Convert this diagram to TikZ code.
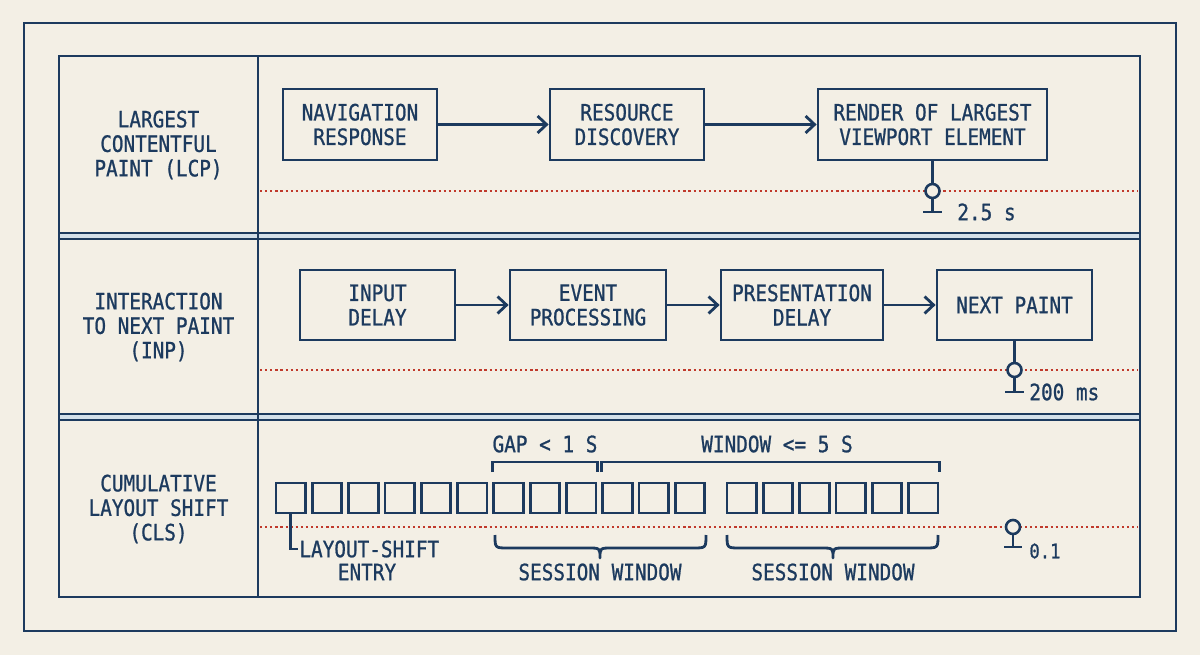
\documentclass[tikz,border=0pt]{standalone}
\usepackage{fontspec}
\setmonofont[FakeStretch=0.86,FakeBold=0.9]{DejaVu Sans Mono}
\usetikzlibrary{arrows.meta}
\definecolor{navy}{HTML}{1C3A5E}
\definecolor{redline}{HTML}{C0392B}
\definecolor{paper}{HTML}{F3EFE5}
\definecolor{band}{HTML}{D3E0EA}
\begin{document}
\begin{tikzpicture}[x=1pt,y=-1pt,line width=2.8pt,
  frame/.style={draw=navy,line width=2.8pt},
  txt/.style={font=\ttfamily\fontsize{22.5}{24.5}\selectfont,text=navy,align=center,inner sep=0pt},
  small/.style={font=\ttfamily\fontsize{20}{22}\selectfont,text=navy,inner sep=0pt},
  stage/.style={txt,draw=navy,line width=2.8pt,minimum height=71pt},
  flow/.style={draw=navy,line width=2.8pt,-{Straight Barb[length=9pt,width=17pt,line width=2.8pt]}},
  dotline/.style={draw=redline,line width=2.6pt,dash pattern=on 2.2pt off 2.9pt},
  pin/.style={circle,draw=navy,fill=paper,line width=2.6pt,minimum size=14pt,inner sep=0pt},
  sq/.style={draw=navy,line width=2.8pt,minimum width=29.5pt,minimum height=30pt,inner sep=0pt},
  ann/.style={draw=navy,line width=2.8pt}]
\useasboundingbox (0,0) rectangle (1200,655);
\fill[paper] (0,0) rectangle (1200,655);
% outer frame
\draw[frame] (24,23) rectangle (1176,631);
% separator bands
\fill[band] (59,233) rectangle (1140,239);
\fill[band] (59,414) rectangle (1140,420);
\draw[frame] (59,233) -- (1140,233) (59,239) -- (1140,239);
\draw[frame] (59,414) -- (1140,414) (59,420) -- (1140,420);
% table
\draw[frame] (59,56) rectangle (1140,597);
\draw[frame] (258,56) -- (258,597);
% red threshold lines
\draw[dotline] (260,191) -- (1138,191);
\draw[dotline] (260,370) -- (1138,370);
\draw[dotline] (260,527) -- (1138,527);
% row labels
\node[txt] (l1) at (158.5,145) {LARGEST\\CONTENTFUL\\PAINT (LCP)};
\node[txt] (l2) at (158.5,327) {INTERACTION\\TO NEXT PAINT\\(INP)};
\node[txt] (l3) at (158.5,509) {CUMULATIVE\\LAYOUT SHIFT\\(CLS)};
% row 1
\node[stage,minimum width=154pt] (nav) at (360,124.5) {NAVIGATION\\RESPONSE};
\node[stage,minimum width=154pt] (res) at (627,124.5) {RESOURCE\\DISCOVERY};
\node[stage,minimum width=229pt] (ren) at (932.5,124.5) {RENDER OF LARGEST\\VIEWPORT ELEMENT};
\draw[flow] (nav.east) -- (res.west);
\draw[flow] (res.east) -- (ren.west);
\node[pin] (p1) at (932.5,191) {};
\coordinate (t1) at (932.5,212);
\draw[ann] (ren.south) -- (p1.north);
\draw[ann] (p1.south) -- (t1);
\draw[ann] ([xshift=-9.5pt]t1) -- ([xshift=9.5pt]t1);
\node[txt,anchor=west] (v1) at (956,212) {2.5 s};
% row 2
\node[stage,minimum width=155pt,minimum height=70pt] (inp) at (377.5,305) {INPUT\\DELAY};
\node[stage,minimum width=156pt,minimum height=70pt] (evt) at (588,305) {EVENT\\PROCESSING};
\node[stage,minimum width=162pt,minimum height=70pt] (pre) at (802,305) {PRESENTATION\\DELAY};
\node[stage,minimum width=155pt,minimum height=70pt] (nxt) at (1014.5,305) {NEXT PAINT};
\draw[flow] (inp.east) -- (evt.west);
\draw[flow] (evt.east) -- (pre.west);
\draw[flow] (pre.east) -- (nxt.west);
\node[pin] (p2) at (1014.5,370) {};
\coordinate (t2) at (1014.5,392);
\draw[ann] (nxt.south) -- (p2.north);
\draw[ann] (p2.south) -- (t2);
\draw[ann] ([xshift=-9.5pt]t2) -- ([xshift=9.5pt]t2);
\node[txt,anchor=west] (v2) at (1028,392) {200 ms};
% row 3 squares
\foreach \i in {0,...,11} \node[sq] (q\i) at ({290.75+36.3*\i},498) {};
\foreach \i in {0,...,5} \node[sq] (r\i) at ({741.75+36.3*\i},498) {};
% top brackets
\draw[ann] (q6.west |- 0,472) -- (q6.west |- 0,462) -- (q8.east |- 0,462) -- (q8.east |- 0,472);
\draw[ann] (q9.west |- 0,472) -- (q9.west |- 0,462) -- (r5.east |- 0,462) -- (r5.east |- 0,472);
\node[txt] (gap) at (545,444) {GAP < 1 S};
\node[txt] (win) at (777,444) {WINDOW <= 5 S};
% bottom braces
\draw[ann,line join=round] (495,535) .. controls (495,548) .. (508,548) -- (588,548) .. controls (600,548) .. (600,558)
  .. controls (600,548) .. (612,548) -- (693,548) .. controls (706,548) .. (706,535);
\draw[ann,line join=round] (727,535) .. controls (727,548) .. (740,548) -- (821,548) .. controls (833,548) .. (833,558)
  .. controls (833,548) .. (845,548) -- (925,548) .. controls (938,548) .. (938,535);
\node[txt] (sw1) at (600,572) {SESSION WINDOW};
\node[txt] (sw2) at (833,572) {SESSION WINDOW};
% layout-shift entry
\node[txt,anchor=west] (ls) at (298,549) {LAYOUT-SHIFT};
\node[txt] (ent) at (367,572) {ENTRY};
\draw[ann] (q0.south) |- (ls.west);
% CLS threshold
\node[pin] (p3) at (1013,527) {};
\coordinate (t3) at (1013,547);
\draw[ann] (p3.south) -- (t3);
\draw[ann] ([xshift=-9pt]t3) -- ([xshift=9pt]t3);
\node[small,anchor=west] (v3) at (1028,551) {0.1};
\end{tikzpicture}
\end{document}
